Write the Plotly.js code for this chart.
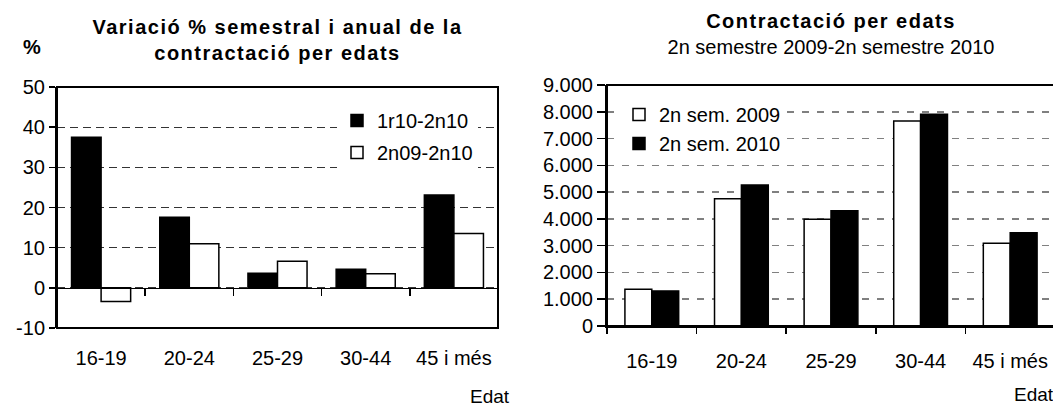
<!DOCTYPE html>
<html><head><meta charset="utf-8">
<script src="https://cdn.plot.ly/plotly-3.0.1.min.js"></script>
<style>
html,body{margin:0;padding:0;background:#fff;overflow:hidden;width:1053px;height:409px;}
#left{position:absolute;left:0;top:0;width:520px;height:409px;}
#right{position:absolute;left:520px;top:0;width:545px;height:409px;}
.gtitle tspan[style*="bold"]{letter-spacing:1.5px;}
</style></head><body>
<div id="left"></div><div id="right"></div>
<script>
// ---- data ----
const ages = ['16-19', '20-24', '25-29', '30-44', '45 i més'];
const var1r10_2n10 = [37.5, 17.6, 3.6, 4.6, 23.1];
const var2n09_2n10 = [-3.4, 11.0, 6.6, 3.5, 13.5];
const sem2n2009 = [1370, 4750, 3990, 7660, 3090];
const sem2n2010 = [1310, 5270, 4300, 7910, 3480];
const leftNames = ['1r10-2n10', '2n09-2n10'];
const rightNames = ['2n sem. 2009', '2n sem. 2010'];
const leftYTicks = [-10, 0, 10, 20, 30, 40, 50];
const leftYTickLabels = ['-10', '0', '10', '20', '30', '40', '50'];
const leftTitle = ['Variació % semestral i anual de la', 'contractació per edats'];
const rightTitle = 'Contractació per edats';
const rightSubtitle = '2n semestre 2009-2n semestre 2010';
const axisTitle = 'Edat';
const leftYTitle = '%';

const FONT = 'Liberation Sans, Arial, sans-serif';
const cfg = {staticPlot: true, displayModeBar: false};

// ---- left chart ----
const L = {l: 57, r: 22, t: 87, b: 81, w: 520, h: 409};
const lx = px => (px - L.l) / (L.w - L.l - L.r);
const ly = py => (L.h - L.b - py) / (L.h - L.t - L.b);

Plotly.newPlot('left', [
  {type: 'bar', x: ages, y: var1r10_2n10, name: leftNames[0], legendgroup: 'a',
   marker: {color: '#000', line: {color: '#000', width: 1.5}}},
  {type: 'bar', x: ages, y: var2n09_2n10, name: leftNames[1], legendgroup: 'b',
   marker: {color: '#fff', line: {color: '#000', width: 1.5}}}
], {
  width: L.w, height: L.h,
  margin: {l: L.l, r: L.r, t: L.t, b: L.b},
  paper_bgcolor: '#fff', plot_bgcolor: '#fff',
  font: {family: FONT, size: 20, color: '#000'},
  barmode: 'group', bargap: 0.33, bargroupgap: 0,
  title: {text: leftTitle.map(s => '<b>' + s + '</b>').join('<br>'), x: 0.5, xref: 'paper',
          y: 1 - 34 / L.h, yref: 'container', yanchor: 'top', font: {family: FONT, size: 20, color: '#000'}},
  xaxis: {type: 'category', anchor: 'free', position: 10 / 60, showline: true, linecolor: '#000', linewidth: 1.5,
          ticks: 'outside', tickson: 'boundaries', ticklen: 7, tickwidth: 1.5, tickcolor: '#000',
          showgrid: false, zeroline: false, ticklabelstandoff: 52, tickfont: {size: 20}},
  yaxis: {range: [-10, 50], tickmode: 'array', tickvals: leftYTicks, ticktext: leftYTickLabels,
          showline: true, linecolor: '#000', linewidth: 2,
          ticks: 'outside', ticklen: 6, tickcolor: '#000', tickwidth: 1.5,
          showgrid: true, gridcolor: '#333', gridwidth: 1, griddash: '8px,5px', zeroline: false,
          tickfont: {size: 20}},
  legend: {x: lx(337), y: ly(101), xanchor: 'left', yanchor: 'top', bgcolor: '#fff', borderwidth: 0,
           font: {size: 20}, traceorder: 'grouped', tracegroupgap: 3},
  shapes: [{type: 'rect', xref: 'paper', yref: 'paper', x0: 0, x1: 1, y0: 0, y1: 1,
            line: {color: '#000', width: 2}, fillcolor: 'rgba(0,0,0,0)'}],
  annotations: [
    {text: '<b>' + leftYTitle + '</b>', xref: 'paper', yref: 'paper', x: lx(32), y: ly(47),
     xanchor: 'center', yanchor: 'middle', showarrow: false, font: {size: 20}},
    {text: axisTitle, xref: 'paper', yref: 'paper', x: lx(490), y: ly(397),
     xanchor: 'center', yanchor: 'middle', showarrow: false, font: {size: 19}}
  ]
}, cfg);

// ---- right chart ----
const R = {l: 87, r: 10, t: 85, b: 83, w: 545, h: 409};
const rx = px => (px - R.l) / (R.w - R.l - R.r);
const ry = py => (R.h - R.b - py) / (R.h - R.t - R.b);

Plotly.newPlot('right', [
  {type: 'bar', x: ages, y: sem2n2009, name: rightNames[0], legendgroup: 'a',
   marker: {color: '#fff', line: {color: '#000', width: 1.5}}},
  {type: 'bar', x: ages, y: sem2n2010, name: rightNames[1], legendgroup: 'b',
   marker: {color: '#000', line: {color: '#000', width: 1.5}}}
], {
  width: R.w, height: R.h,
  margin: {l: R.l, r: R.r, t: R.t, b: R.b},
  paper_bgcolor: '#fff', plot_bgcolor: '#fff',
  separators: ',.',
  font: {family: FONT, size: 20, color: '#000'},
  barmode: 'group', bargap: 0.40, bargroupgap: 0,
  title: {text: '<b>' + rightTitle + '</b><br>' + rightSubtitle, x: 0.5, xref: 'paper',
          y: 1 - 28 / R.h, yref: 'container', yanchor: 'top', font: {family: FONT, size: 20, color: '#000'}},
  xaxis: {type: 'category', showline: true, linecolor: '#000', linewidth: 2,
          ticks: 'outside', tickson: 'boundaries', ticklen: 6, tickwidth: 1.5, tickcolor: '#000',
          showgrid: false, zeroline: false, ticklabelstandoff: 16, tickfont: {size: 20}},
  yaxis: {range: [0, 9000], dtick: 1000, tick0: 0, separatethousands: true, showline: true,
          linecolor: '#000', linewidth: 2, ticks: 'outside', ticklen: 8, tickcolor: '#000', tickwidth: 1.5,
          showgrid: true, gridcolor: '#808080', gridwidth: 1.5, griddash: '7px,8px', zeroline: false,
          tickfont: {size: 20}},
  legend: {x: rx(619 - 520), y: ry(95), xanchor: 'left', yanchor: 'top', bgcolor: '#fff', borderwidth: 0,
           font: {size: 20}, traceorder: 'normal'},
  shapes: [{type: 'rect', xref: 'paper', yref: 'paper', x0: 0, x1: 1, y0: 0, y1: 1,
            line: {color: '#000', width: 2}, fillcolor: 'rgba(0,0,0,0)'}],
  annotations: [
    {text: axisTitle, xref: 'paper', yref: 'paper', x: rx(1034 - 520), y: ry(395),
     xanchor: 'center', yanchor: 'middle', showarrow: false, font: {size: 19}}
  ]
}, cfg);
</script>
</body></html>
